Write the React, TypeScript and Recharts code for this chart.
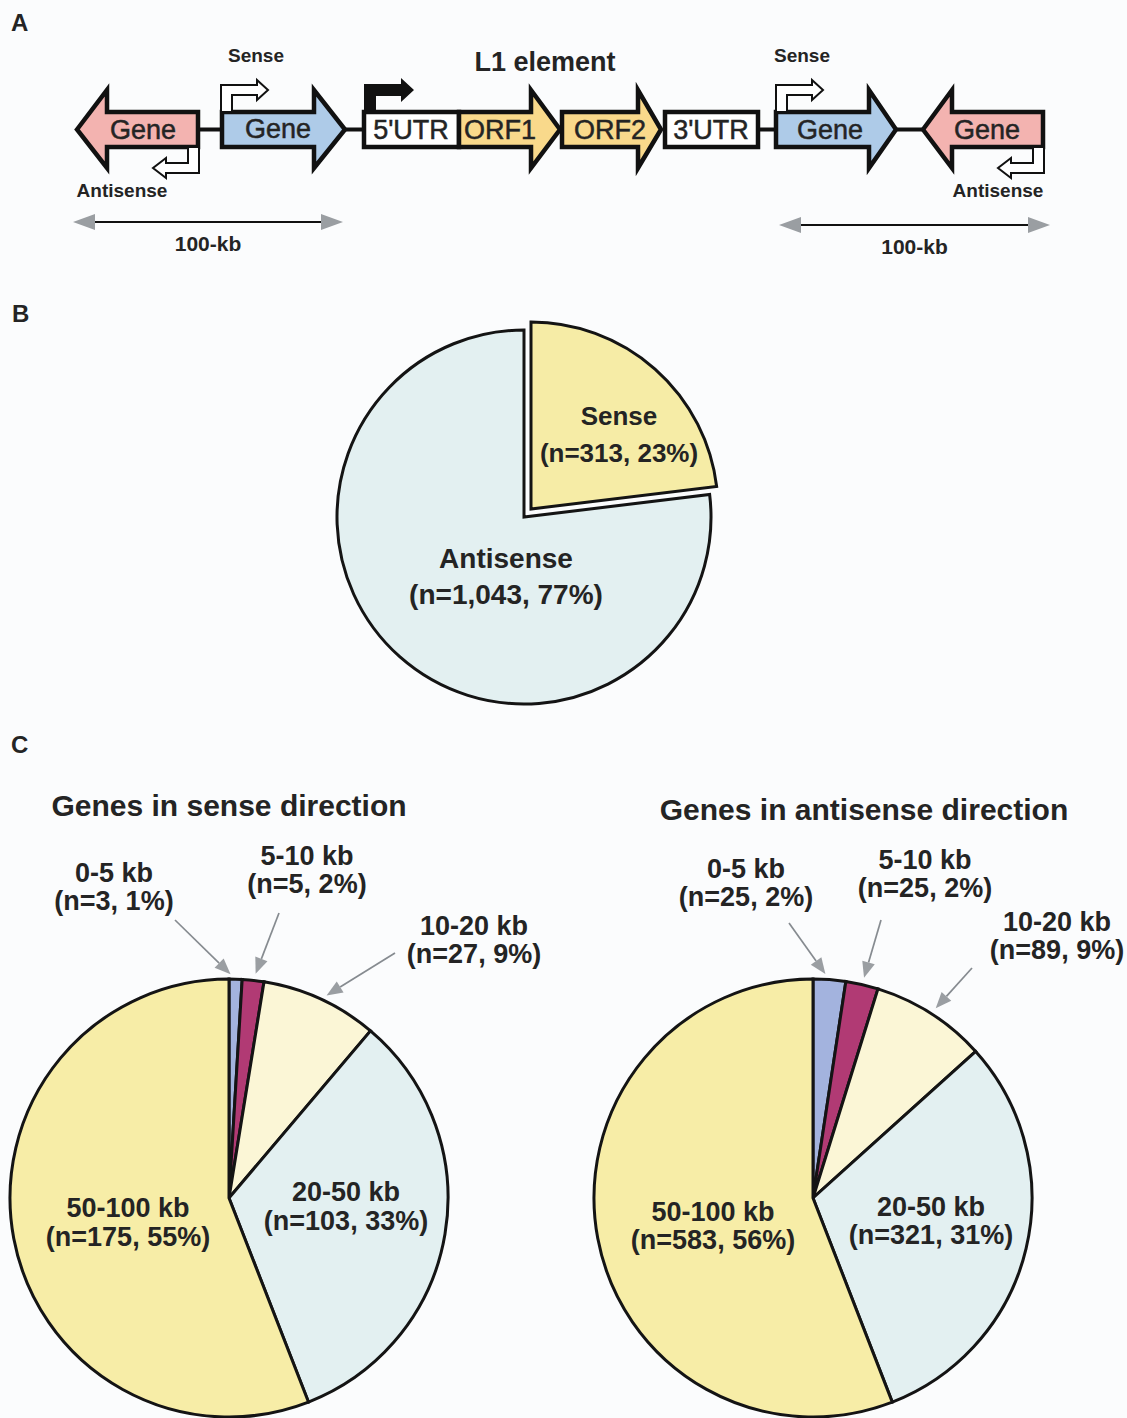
import { PieChart, Pie, Cell } from "recharts";

const W = 1127;
const H = 1418;
const FONT = "'Liberation Sans', Arial, Helvetica, sans-serif";
const INK = "#242424";

// B: orientation of the gene relative to the L1 element
const orientNames = ["Sense", "Antisense"];
const orientCounts = [313, 1043];
const orientPct = [23, 77];
const orientColors = ["#f6eca6", "#e3f0f1"];

// C: distance from the L1 element
const distBins = ["0-5 kb", "5-10 kb", "10-20 kb", "20-50 kb", "50-100 kb"];
const senseCounts = [3, 5, 27, 103, 175];
const sensePct = [1, 2, 9, 33, 55];
const antisenseCounts = [25, 25, 89, 321, 583];
const antisensePct = [2, 2, 9, 31, 56];
const binColors = ["#a3b3de", "#b13a74", "#fbf6d6", "#e3f0f1", "#f7eda7"];

type Row = { name: string; value: number; pct: number };
const rows = (names: string[], counts: number[], pct: number[]): Row[] =>
  names.map((name, i) => ({ name, value: counts[i], pct: pct[i] }));

const orientData = rows(orientNames, orientCounts, orientPct);
const senseData = rows(distBins, senseCounts, sensePct);
const antisenseData = rows(distBins, antisenseCounts, antisensePct);

// label placement, offsets from the pie centre; tail = start of a callout arrow
type Spot = { dx: number; dy: number; size: number; gap: number; tail?: [number, number] };

const orientSpots: Spot[] = [
  { dx: 88, dy: -93, size: 26, gap: 37 },
  { dx: -18, dy: 41, size: 28, gap: 36 },
];
const senseSpots: Spot[] = [
  { dx: -115, dy: -325, size: 27, gap: 28, tail: [-54, -278] },
  { dx: 78, dy: -342, size: 27, gap: 28, tail: [50, -285] },
  { dx: 245, dy: -272, size: 27, gap: 28, tail: [166, -245] },
  { dx: 117, dy: -6, size: 27, gap: 29 },
  { dx: -101, dy: 10, size: 27, gap: 29 },
];
const antisenseSpots: Spot[] = [
  { dx: -67, dy: -329, size: 27, gap: 28, tail: [-24, -275] },
  { dx: 112, dy: -338, size: 27, gap: 28, tail: [68, -278] },
  { dx: 244, dy: -276, size: 27, gap: 28, tail: [159, -230] },
  { dx: 118, dy: 9, size: 27, gap: 28 },
  { dx: -100, dy: 14, size: 27, gap: 28 },
];

const RAD = Math.PI / 180;

function makeLabel(data: Row[], spots: Spot[], visible?: number) {
  return (p: any) => {
    const i: number = p.index;
    if (visible !== undefined && i !== visible) return <g />;
    const row = data[i];
    const s = spots[i];
    const cx = Number(p.cx);
    const cy = Number(p.cy);
    const x = cx + s.dx;
    const y = cy + s.dy;
    let arrow = null;
    if (s.tail) {
      const r = Number(p.outerRadius);
      const px = cx + r * Math.cos(-p.midAngle * RAD);
      const py = cy + r * Math.sin(-p.midAngle * RAD);
      const ax = cx + s.tail[0];
      const ay = cy + s.tail[1];
      const len = Math.hypot(px - ax, py - ay);
      const ux = (px - ax) / len;
      const uy = (py - ay) / len;
      const ex = px - ux * 7;
      const ey = py - uy * 7;
      const bx = ex - ux * 16;
      const by = ey - uy * 16;
      const hw = 6.5;
      arrow = (
        <g>
          <line x1={ax} y1={ay} x2={bx} y2={by} stroke="#868b90" strokeWidth={1.7} />
          <polygon
            points={`${ex},${ey} ${bx - uy * hw},${by + ux * hw} ${bx + uy * hw},${by - ux * hw}`}
            fill="#9a9ea2"
          />
        </g>
      );
    }
    return (
      <g>
        {arrow}
        <text
          x={x}
          y={y}
          textAnchor="middle"
          fontFamily={FONT}
          fontWeight="bold"
          fontSize={s.size}
          fill={INK}
        >
          <tspan x={x} dy={s.size * 0.35}>{row.name}</tspan>
          <tspan x={x} dy={s.gap}>{`(n=${row.value.toLocaleString("en-US")}, ${row.pct}%)`}</tspan>
        </text>
      </g>
    );
  };
}

// gene / ORF arrow outlines for the L1 locus sketch
const BT = 112;
const BB = 147;
const HT = 90;
const HB = 168;
const MID = 129.5;

const rightArrow = (x0: number, xb: number, xt: number) =>
  `${x0},${BT} ${xb},${BT} ${xb},${HT} ${xt},${MID} ${xb},${HB} ${xb},${BB} ${x0},${BB}`;
const leftArrow = (xt: number, xb: number, x1: number) =>
  `${xt},${MID} ${xb},${HT} ${xb},${BT} ${x1},${BT} ${x1},${BB} ${xb},${BB} ${xb},${HB}`;

const senseMark = (x: number) =>
  [[0, 112], [0, 85], [36, 85], [36, 80], [47, 90], [36, 100], [36, 95], [11, 95], [11, 112]]
    .map(([a, b]) => `${x + a},${b}`)
    .join(" ");
const antisenseMark = (x: number) =>
  [[0, 147], [0, 173], [-33, 173], [-33, 178], [-46, 168], [-33, 158], [-33, 163], [-11, 163], [-11, 147]]
    .map(([a, b]) => `${x + a},${b}`)
    .join(" ");

function ScaleBar({ x0, x1, y, label }: { x0: number; x1: number; y: number; label: string }) {
  return (
    <g>
      <line x1={x0 + 20} y1={y} x2={x1 - 20} y2={y} stroke="#111" strokeWidth={2} />
      <polygon points={`${x0},${y} ${x0 + 22},${y - 8} ${x0 + 22},${y + 8}`} fill="#9a9ea2" />
      <polygon points={`${x1},${y} ${x1 - 22},${y - 8} ${x1 - 22},${y + 8}`} fill="#9a9ea2" />
      <text x={(x0 + x1) / 2} y={y + 29} textAnchor="middle" fontSize={21} fontWeight="bold" fill={INK}>
        {label}
      </text>
    </g>
  );
}

function Locus() {
  const geneStroke = { stroke: "#111", strokeWidth: 4.5, strokeLinejoin: "miter" as const };
  const boxText = { fontSize: 27, fill: INK, textAnchor: "middle" as const, stroke: INK, strokeWidth: 0.5 };
  return (
    <g fontFamily={FONT}>
      {[[198, 222], [345, 364], [758, 776], [896, 923]].map(([a, b]) => (
        <line key={a} x1={a} y1={MID} x2={b} y2={MID} stroke="#111" strokeWidth={4} />
      ))}
      <polygon points={leftArrow(77, 107, 198)} fill="#f3b3b0" {...geneStroke} />
      <polygon points={rightArrow(222, 314, 345)} fill="#aecbe8" {...geneStroke} />
      <rect x={364} y={BT} width={95} height={BB - BT} fill="#fff" {...geneStroke} />
      <polygon points={rightArrow(459, 531, 560)} fill="#f9d98b" {...geneStroke} />
      <polygon points={rightArrow(562, 638, 661)} fill="#f9d98b" {...geneStroke} />
      <rect x={665} y={BT} width={93} height={BB - BT} fill="#fff" {...geneStroke} />
      <polygon points={rightArrow(776, 869, 896)} fill="#aecbe8" {...geneStroke} />
      <polygon points={leftArrow(923, 952, 1043)} fill="#f3b3b0" {...geneStroke} />

      {/* L1 promoter */}
      <polygon
        points="364,112 364,84 401,84 401,78 414,90 401,102 401,96 376,96 376,112"
        fill="#111"
      />
      {/* transcription start marks */}
      <polygon points={senseMark(221)} fill="#fff" stroke="#111" strokeWidth={2} />
      <polygon points={senseMark(776)} fill="#fff" stroke="#111" strokeWidth={2} />
      <polygon points={antisenseMark(199)} fill="#fff" stroke="#111" strokeWidth={2} />
      <polygon points={antisenseMark(1044)} fill="#fff" stroke="#111" strokeWidth={2} />

      <text x={143} y={139} {...boxText}>Gene</text>
      <text x={278} y={138} {...boxText}>Gene</text>
      <text x={411} y={139} {...boxText}>5'UTR</text>
      <text x={500} y={139} {...boxText}>ORF1</text>
      <text x={610} y={139} {...boxText}>ORF2</text>
      <text x={711} y={139} {...boxText}>3'UTR</text>
      <text x={830} y={139} {...boxText}>Gene</text>
      <text x={987} y={139} {...boxText}>Gene</text>

      <text x={256} y={62} textAnchor="middle" fontSize={19} fontWeight="bold" fill={INK}>Sense</text>
      <text x={802} y={62} textAnchor="middle" fontSize={19} fontWeight="bold" fill={INK}>Sense</text>
      <text x={122} y={197} textAnchor="middle" fontSize={19} fontWeight="bold" fill={INK}>Antisense</text>
      <text x={998} y={197} textAnchor="middle" fontSize={19} fontWeight="bold" fill={INK}>Antisense</text>
      <text x={545} y={71} textAnchor="middle" fontSize={27} fontWeight="bold" fill={INK}>L1 element</text>

      <ScaleBar x0={73} x1={343} y={222} label="100-kb" />
      <ScaleBar x0={779} x1={1050} y={225} label="100-kb" />
    </g>
  );
}

const pieStroke = { stroke: "#141414", strokeWidth: 3 };

export default function App() {
  return (
    <div style={{ position: "relative", width: W, height: H, background: "#fbfcfd", overflow: "hidden" }}>
      <style>{"body{margin:0;background:#fbfcfd}"}</style>
      <div style={{ position: "absolute", left: 0, top: 0 }}>
        <PieChart width={W} height={H} margin={{ top: 0, right: 0, bottom: 0, left: 0 }}>
          {/* B: antisense part, sense wedge left empty */}
          <Pie
            data={orientData}
            dataKey="value"
            nameKey="name"
            cx={524}
            cy={517}
            outerRadius={187}
            startAngle={90}
            endAngle={-270}
            labelLine={false}
            label={makeLabel(orientData, orientSpots, 1)}
            isAnimationActive={false}
          >
            {orientData.map((d, i) => (
              <Cell key={d.name} fill={i === 1 ? orientColors[i] : "none"} stroke={i === 1 ? "#141414" : "none"} strokeWidth={3} />
            ))}
          </Pie>
          {/* B: sense wedge pulled out */}
          <Pie
            data={orientData}
            dataKey="value"
            nameKey="name"
            cx={531}
            cy={509}
            outerRadius={187}
            startAngle={90}
            endAngle={-270}
            labelLine={false}
            label={makeLabel(orientData, orientSpots, 0)}
            isAnimationActive={false}
          >
            {orientData.map((d, i) => (
              <Cell key={d.name} fill={i === 0 ? orientColors[i] : "none"} stroke={i === 0 ? "#141414" : "none"} strokeWidth={3} />
            ))}
          </Pie>
          {/* C: genes in sense direction */}
          <Pie
            data={senseData}
            dataKey="value"
            nameKey="name"
            cx={229}
            cy={1198}
            outerRadius={219}
            startAngle={90}
            endAngle={-270}
            labelLine={false}
            label={makeLabel(senseData, senseSpots)}
            isAnimationActive={false}
          >
            {senseData.map((d, i) => (
              <Cell key={d.name} fill={binColors[i]} {...pieStroke} />
            ))}
          </Pie>
          {/* C: genes in antisense direction */}
          <Pie
            data={antisenseData}
            dataKey="value"
            nameKey="name"
            cx={813}
            cy={1198}
            outerRadius={219}
            startAngle={90}
            endAngle={-270}
            labelLine={false}
            label={makeLabel(antisenseData, antisenseSpots)}
            isAnimationActive={false}
          >
            {antisenseData.map((d, i) => (
              <Cell key={d.name} fill={binColors[i]} {...pieStroke} />
            ))}
          </Pie>
        </PieChart>
      </div>
      <svg
        width={W}
        height={H}
        style={{ position: "absolute", left: 0, top: 0, pointerEvents: "none" }}
        fontFamily={FONT}
      >
        <Locus />
        <text x={11} y={31} fontSize={24} fontWeight="bold" fill={INK}>A</text>
        <text x={12} y={322} fontSize={24} fontWeight="bold" fill={INK}>B</text>
        <text x={11} y={753} fontSize={24} fontWeight="bold" fill={INK}>C</text>
        <text x={229} y={816} textAnchor="middle" fontSize={30} fontWeight="bold" fill={INK}>
          Genes in sense direction
        </text>
        <text x={864} y={820} textAnchor="middle" fontSize={30} fontWeight="bold" fill={INK}>
          Genes in antisense direction
        </text>
      </svg>
    </div>
  );
}
